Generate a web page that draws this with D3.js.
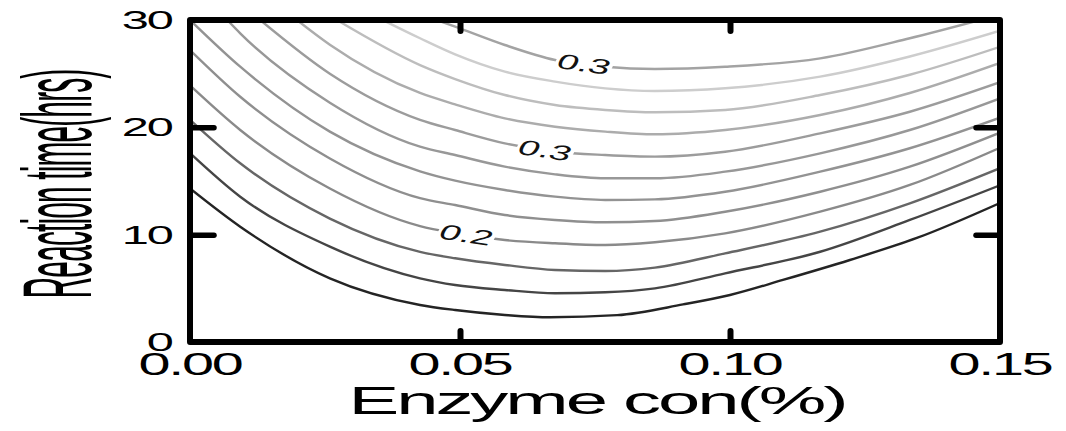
<!DOCTYPE html>
<html>
<head>
<meta charset="utf-8">
<script src="https://cdn.jsdelivr.net/npm/d3@7"></script>
<style>
  html, body { margin: 0; padding: 0; background: #fff; }
  svg { display: block; font-family: "Liberation Sans", Arial, Helvetica, sans-serif; }
</style>
</head>
<body>
<svg id="chart" width="1066" height="431"></svg>
<script>
// Axis tick values
const enzymeTicks = [0, 0.05, 0.10, 0.15];   // enzyme concentration (%)
const timeTicks = [0, 10, 20, 30];           // reaction time (hrs)

// Contour levels, one per traced iso-line below
const levels = [0.125, 0.15, 0.175, 0.2, 0.225, 0.25, 0.275, 0.3, 0.325, 0.35, 0.375, 0.31];

// Iso-lines as [enzyme %, time hrs] pairs
const c125 = [[0,14.3],[0.0093,10.74],[0.0259,5.93],[0.0426,3.45],[0.0491,2.98],[0.0583,2.52],[0.0667,2.3],[0.0791,2.5],[0.0913,3.5],[0.1,4.38],[0.1098,5.78],[0.1222,7.64],[0.1346,9.69],[0.15,12.95]];
const c150 = [[0,17.6],[0.0093,13.54],[0.0259,8.88],[0.0426,5.93],[0.0491,5.31],[0.0583,4.85],[0.0676,4.54],[0.0769,4.63],[0.0861,5.00],[0.0991,6.40],[0.1167,8.41],[0.1333,11.37],[0.15,14.6]];
const c175 = [[0,20.7],[0.0093,16.65],[0.0259,11.5],[0.0426,8.4],[0.0491,7.8],[0.0583,7.18],[0.0676,6.71],[0.0769,6.61],[0.0861,6.93],[0.0991,8.26],[0.1167,10.28],[0.1333,12.92],[0.15,16.2]];
const c200 = [[0,23.9],[0.0093,19.75],[0.0259,14.3],[0.0426,10.8],[0.0491,10.15],[0.0583,9.5],[0.0676,9.2],[0.0769,9.04],[0.0861,9.29],[0.0991,10.12],[0.1167,12.14],[0.1333,14.63],[0.15,18.1]];
const c225 = [[0,27.2],[0.0093,22.85],[0.0259,17.1],[0.0426,13.4],[0.0491,12.76],[0.0583,11.83],[0.0676,11.37],[0.0769,11.15],[0.0861,11.27],[0.0991,12.14],[0.1167,14.0],[0.1333,16.33],[0.15,19.5]];
const c250 = [[0,30],[0.0093,25.65],[0.0259,19.6],[0.0426,15.9],[0.0491,15.03],[0.0583,14.16],[0.0676,13.54],[0.0769,13.23],[0.0861,13.29],[0.0991,14.0],[0.1167,15.87],[0.1333,18.05],[0.15,20.9]];
const c275 = [[0.0069,30],[0.0093,28.76],[0.0259,22.3],[0.0426,18.2],[0.0491,17.42],[0.0583,16.34],[0.0676,15.62],[0.0769,15.25],[0.0861,15.25],[0.0991,15.87],[0.1167,17.58],[0.1333,19.75],[0.15,22.7]];
const c300 = [[0.013,30],[0.0259,25.0],[0.0426,20.7],[0.0491,19.75],[0.0583,18.51],[0.0676,17.73],[0.0769,17.42],[0.0861,17.27],[0.0991,17.73],[0.1167,19.44],[0.1333,21.45],[0.15,24.2]];
const c325 = [[0.0198,30],[0.0259,27.7],[0.0426,23.2],[0.0491,22.14],[0.0583,20.84],[0.0676,20.06],[0.0769,19.6],[0.0861,19.35],[0.0991,19.75],[0.1167,21.15],[0.1333,23.2],[0.15,26.0]];
const c350 = [[0.0272,30],[0.0426,25.8],[0.0491,24.5],[0.0583,23.01],[0.0676,22.08],[0.0769,21.62],[0.0861,21.40],[0.0991,21.62],[0.1167,23.01],[0.1333,24.9],[0.15,27.5]];
const c375 = [[0.0357,30],[0.0426,28.3],[0.0491,26.8],[0.0583,25.19],[0.0676,24.26],[0.0769,23.63],[0.0861,23.39],[0.0991,23.64],[0.1167,24.72],[0.1333,26.6],[0.15,29.0]];
const c310 = [[0.0457,30],[0.0491,29.38],[0.0583,27.67],[0.0676,26.27],[0.0769,25.65],[0.0861,25.44],[0.0991,25.65],[0.1167,26.43],[0.1333,28.3],[0.1463,30]];

const contourLines = [c125, c150, c175, c200, c225, c250, c275, c300, c325, c350, c375, c310];

// Inline contour labels: which line, and where along the enzyme axis
const inlineLabels = [
  { line: 11, at: 0.0730 },
  { line: 7,  at: 0.0658 },
  { line: 3,  at: 0.0512 }
];

const svg = d3.select("#chart");
const plot = { left: 190, right: 1000, top: 20, bottom: 342 };

const x = d3.scaleLinear().domain([0, 0.15]).range([plot.left, plot.right]);
const y = d3.scaleLinear().domain([0, 30]).range([plot.bottom, plot.top]);

const gray = d3.scaleLinear()
  .domain([0.125, 0.15, 0.175, 0.2, 0.3, 0.375])
  .range(["#242424", "#454545", "#666666", "#8a8a8a", "#9c9c9c", "#cdcdcd"]);

const defs = svg.append("defs");
defs.append("clipPath").attr("id", "plot-clip")
  .append("rect")
  .attr("x", plot.left).attr("y", plot.top)
  .attr("width", plot.right - plot.left).attr("height", plot.bottom - plot.top);

// linear interpolation along a traced line
function timeAt(points, xv) {
  for (let i = 0; i < points.length - 1; i++) {
    const a = points[i], b = points[i + 1];
    if (xv >= a[0] && xv <= b[0]) {
      const t = (xv - a[0]) / (b[0] - a[0]);
      return a[1] + t * (b[1] - a[1]);
    }
  }
  return points[points.length - 1][1];
}

const labelFont = 21, labelStretch = 1.85;
const fmt1 = d3.format(".1f");

// label geometry (placed on the line, rotated with it)
const labelGeom = inlineLabels.map((lb, k) => {
  const pts = contourLines[lb.line];
  const px = x(lb.at), py = y(timeAt(pts, lb.at));
  const dxp = x(lb.at + 0.003) - x(lb.at - 0.003);
  const dyp = y(timeAt(pts, lb.at + 0.003)) - y(timeAt(pts, lb.at - 0.003));
  const ang = Math.atan2(dyp, dxp / labelStretch) * 180 / Math.PI;
  return {
    id: k, line: lb.line, text: fmt1(levels[lb.line]),
    transform: `translate(${px},${py}) scale(${labelStretch},1) rotate(${ang})`
  };
});

// masks cutting a gap into labelled lines
labelGeom.forEach(g => {
  const m = defs.append("mask").attr("id", "gap-" + g.line)
    .attr("maskUnits", "userSpaceOnUse")
    .attr("x", 0).attr("y", 0).attr("width", 1066).attr("height", 431);
  m.append("rect").attr("x", 0).attr("y", 0).attr("width", 1066).attr("height", 431).attr("fill", "#fff");
  const w = labelFont * 1.39 + 2;
  m.append("rect")
    .attr("transform", g.transform)
    .attr("x", -w / 2).attr("y", -9).attr("width", w).attr("height", 18)
    .attr("fill", "#000");
});

const line = d3.line()
  .x(d => x(d[0]))
  .y(d => y(d[1]))
  .curve(d3.curveMonotoneX);

const lineLayer = svg.append("g").attr("clip-path", "url(#plot-clip)");
lineLayer.selectAll("path.iso")
  .data(contourLines.map((pts, i) => ({ pts, level: levels[i], idx: i })))
  .join("path")
  .attr("class", "iso")
  .attr("d", d => line(d.pts))
  .attr("fill", "none")
  .attr("stroke", d => gray(d.level))
  .attr("stroke-width", 2.4)
  .attr("stroke-linejoin", "round")
  .attr("mask", d => labelGeom.some(g => g.line === d.idx) ? `url(#gap-${d.idx})` : null);

svg.append("g").selectAll("text.clabel")
  .data(labelGeom)
  .join("text")
  .attr("class", "clabel")
  .attr("transform", d => d.transform)
  .attr("text-anchor", "middle")
  .attr("dy", "0.36em")
  .attr("font-size", labelFont)
  .attr("fill", "#111")
  .text(d => d.text);

// inward ticks on all four sides
function styleTicks(g) {
  g.select(".domain").remove();
  g.selectAll(".tick line").attr("stroke", "#000").attr("stroke-linecap", "round");
  g.selectAll(".tick text").remove();
}
const innerX = enzymeTicks.slice(1, -1), innerY = timeTicks.slice(1, -1);
svg.append("g").attr("transform", `translate(0,${plot.bottom})`)
  .call(d3.axisBottom(x).tickValues(innerX).tickSize(-11).tickFormat(""))
  .call(styleTicks).selectAll(".tick line").attr("stroke-width", 6);
svg.append("g").attr("transform", `translate(0,${plot.top})`)
  .call(d3.axisTop(x).tickValues(innerX).tickSize(-11).tickFormat(""))
  .call(styleTicks).selectAll(".tick line").attr("stroke-width", 6);
svg.append("g").attr("transform", `translate(${plot.left},0)`)
  .call(d3.axisLeft(y).tickValues(innerY).tickSize(-24).tickFormat(""))
  .call(styleTicks).selectAll(".tick line").attr("stroke-width", 5.5);
svg.append("g").attr("transform", `translate(${plot.right},0)`)
  .call(d3.axisRight(y).tickValues(innerY).tickSize(-24).tickFormat(""))
  .call(styleTicks).selectAll(".tick line").attr("stroke-width", 5.5);

// frame
svg.append("rect")
  .attr("x", plot.left).attr("y", plot.top)
  .attr("width", plot.right - plot.left).attr("height", plot.bottom - plot.top)
  .attr("fill", "none").attr("stroke", "#000").attr("stroke-width", 6)
  .attr("stroke-linejoin", "round");

// tick labels
const fmt2 = d3.format(".2f");
svg.append("g").selectAll("text")
  .data(enzymeTicks)
  .join("text")
  .attr("transform", d => `translate(${x(d)},375) scale(1.8,1)`)
  .attr("text-anchor", "middle")
  .attr("font-size", 32)
  .attr("letter-spacing", "-0.04em")
  .attr("fill", "#000")
  .text(d => fmt2(d));

svg.append("g").selectAll("text")
  .data(timeTicks)
  .join("text")
  .attr("transform", d => `translate(172,${y(d)}) scale(1.95,1)`)
  .attr("text-anchor", "end")
  .attr("dy", "0.36em")
  .attr("font-size", 25)
  .attr("letter-spacing", "-0.04em")
  .attr("fill", "#000")
  .text(d => d);

// axis titles
svg.append("text")
  .attr("transform", "translate(597,414) scale(1.95,1)")
  .attr("text-anchor", "middle")
  .attr("font-size", 39)
  .attr("letter-spacing", "-0.04em")
  .attr("fill", "#000")
  .text("Enzyme con(%)");

svg.append("text")
  .attr("transform", "translate(91,184) scale(3.3,1) rotate(-90)")
  .attr("text-anchor", "middle")
  .attr("font-size", 30)
  .attr("letter-spacing", "-0.03em")
  .attr("fill", "#000")
  .text("Reaction time(hrs)");
</script>
</body>
</html>
